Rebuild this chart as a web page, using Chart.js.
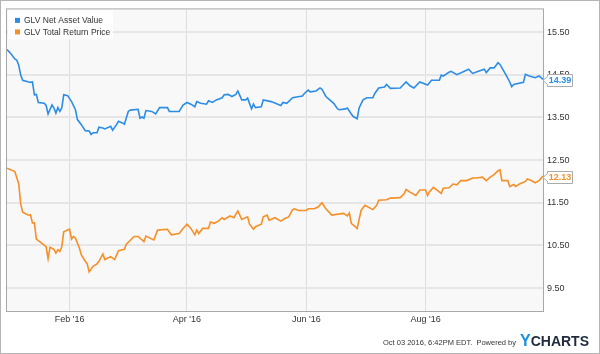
<!DOCTYPE html>
<html>
<head>
<meta charset="utf-8">
<script src="https://cdn.jsdelivr.net/npm/chart.js@4.4.0/dist/chart.umd.min.js"></script>
<style>
  html, body { margin: 0; padding: 0; background: #fff; }
  #wrap { width: 600px; height: 354px; }
</style>
</head>
<body>
<div id="wrap"><canvas id="myChart" width="600" height="354"></canvas></div>
<script>
// x values are days counted from Jan 1 2016 (Jan 1 = 0)
var navDays = [-1,1,3,4,5,6,7,11,12,13,14,15,18,19,20,22,23,24,25,26,27,28,30,32,34,35,37,39,41,42,43,45,46,48,49,52,53,55,56,58,59,61,62,66,67,68,69,70,73,75,77,81,82,87,89,91,93,95,96,98,101,102,104,106,109,110,112,114,116,117,119,121,122,124,125,126,129,130,134,139,140,142,145,147,150,151,153,154,157,159,160,162,164,166,168,169,172,173,175,176,178,179,181,183,186,187,189,192,193,195,200,203,205,207,210,214,216,220,221,222,225,226,229,235,237,240,243,244,246,248,250,251,254,256,257,258,263,264,266,269,271,273];
var navValues = [15.09,14.99,14.87,14.84,14.72,14.49,14.37,14.32,14.33,14.03,14.04,13.85,13.83,13.78,13.58,13.79,13.72,13.60,13.73,13.64,13.72,14.03,14.01,13.87,13.68,13.45,13.33,13.19,13.18,13.10,13.14,13.14,13.27,13.25,13.23,13.29,13.20,13.33,13.41,13.37,13.34,13.64,13.67,13.69,13.48,13.51,13.48,13.66,13.64,13.58,13.73,13.73,13.64,13.64,13.79,13.85,13.81,13.75,13.87,13.83,13.81,13.89,13.85,13.91,13.96,14.03,14.04,13.99,14.04,14.12,13.91,13.91,13.95,13.70,13.81,13.73,13.75,13.91,13.87,13.78,13.85,13.83,13.96,13.98,14.00,14.06,14.14,14.10,14.12,14.19,14.16,13.99,13.91,13.83,13.70,13.68,13.70,13.72,13.58,13.52,13.47,13.72,13.91,13.96,13.96,14.06,14.19,14.21,14.27,14.18,14.19,14.33,14.24,14.19,14.33,14.26,14.37,14.37,14.49,14.47,14.56,14.58,14.50,14.63,14.53,14.58,14.63,14.55,14.66,14.66,14.78,14.74,14.50,14.33,14.22,14.27,14.32,14.51,14.47,14.43,14.47,14.39];

var priceDays = [-1,3,5,6,7,10,11,12,13,14,18,19,20,21,23,24,25,26,27,28,30,31,32,33,34,36,37,39,40,41,43,45,46,48,49,52,54,56,59,60,64,66,69,70,74,76,81,83,87,89,91,93,95,96,97,99,102,103,105,107,109,110,113,115,117,119,122,123,125,126,129,130,132,133,136,139,141,143,145,146,148,152,153,156,158,160,162,165,171,173,174,175,178,180,182,186,188,189,193,195,200,202,203,205,208,210,213,214,215,217,221,222,225,227,229,231,234,237,239,242,244,246,248,250,251,252,255,256,258,259,261,264,265,267,269,271,273];
var priceValues = [12.31,12.23,11.94,11.48,11.28,11.21,11.22,11.03,11.03,10.65,10.51,10.47,10.19,10.46,10.41,10.32,10.40,10.36,10.47,10.82,10.86,10.88,10.65,10.71,10.67,10.44,10.28,10.13,10.07,9.88,10.01,10.07,10.13,10.30,10.17,10.24,10.17,10.38,10.41,10.53,10.71,10.71,10.59,10.72,10.63,10.86,10.88,10.75,10.78,10.90,11.00,10.90,10.75,10.86,10.78,10.90,10.90,11.05,11.02,11.07,11.15,11.11,11.19,11.15,11.31,11.11,11.17,11.00,10.88,10.94,11.00,11.17,11.21,11.09,11.15,11.07,11.13,11.17,11.34,11.36,11.32,11.32,11.36,11.36,11.40,11.50,11.36,11.21,11.25,11.19,11.26,11.02,10.90,11.32,11.44,11.34,11.44,11.56,11.57,11.61,11.62,11.71,11.81,11.75,11.67,11.80,11.80,11.67,11.76,11.86,11.72,11.84,11.85,11.94,11.92,12.02,12.02,12.08,12.08,12.10,12.02,12.10,12.16,12.25,12.27,12.02,12.02,11.88,11.93,11.88,11.94,12.00,12.06,12.02,11.97,12.02,12.13];

var xTickDays = [31, 91, 152, 213];
var xTickLabels = ["Feb '16", "Apr '16", "Jun '16", "Aug '16"];
var yTickValues = [9.5, 10.5, 11.5, 12.5, 13.5, 14.5, 15.5];

var seriesNames = ['GLV Net Asset Value', 'GLV Total Return Price'];
var seriesColors = ['#2b8de6', '#f78f27'];
var footerText = 'Oct 03 2016, 6:42PM EDT.  Powered by';

var FONT = "'Liberation Sans', Arial, sans-serif";

function toPoints(days, vals) {
  return days.map(function (d, i) { return { x: d, y: vals[i] }; });
}

// background, frame, legend, last value tags, footer
var ychartsDecor = {
  id: 'ychartsDecor',
  beforeDraw: function (chart) {
    var c = chart.ctx, a = chart.chartArea;
    c.save();
    c.fillStyle = '#fff';
    c.fillRect(0, 0, chart.width, chart.height);
    c.fillStyle = '#f8f8f8';
    c.fillRect(a.left, a.top, a.right - a.left, a.bottom - a.top);
    c.restore();
  },
  afterDraw: function (chart) {
    var c = chart.ctx, a = chart.chartArea;
    c.save();
    // outer frame
    c.strokeStyle = '#b5b5b5';
    c.lineWidth = 1;
    c.strokeRect(0.5, 0.5, chart.width - 1, chart.height - 1);
    // plot border
    c.strokeStyle = '#a8a8a8';
    c.strokeRect(a.left - 0.5, a.top - 0.5, a.right - a.left + 1, a.bottom - a.top + 1);

    // legend
    c.fillStyle = 'rgba(255,255,255,0.85)';
    c.fillRect(a.left + 1, a.top + 1, 105, 29);
    c.font = '8.5px ' + FONT;
    c.textBaseline = 'middle';
    chart.data.datasets.forEach(function (ds, i) {
      var y = a.top + 11 + i * 11.5;
      c.fillStyle = ds.borderColor;
      c.fillRect(a.left + 8, y - 2.5, 5, 5);
      c.fillStyle = '#333';
      c.fillText(ds.label, a.left + 17, y + 0.5);
    });

    // last value tags on the right axis
    var ys = chart.scales.y;
    chart.data.datasets.forEach(function (ds) {
      var last = ds.data[ds.data.length - 1].y;
      var py = Math.round(ys.getPixelForValue(last)) + 1;
      var x0 = a.right + 4, w = 25, h = 12;
      c.beginPath();
      c.moveTo(a.right, py + 0.5);
      c.lineTo(x0 + 0.5, py - 3.5);
      c.lineTo(x0 + 0.5, py - h / 2 + 0.5);
      c.lineTo(x0 + w + 0.5, py - h / 2 + 0.5);
      c.lineTo(x0 + w + 0.5, py + h / 2 + 0.5);
      c.lineTo(x0 + 0.5, py + h / 2 + 0.5);
      c.lineTo(x0 + 0.5, py + 4.5);
      c.closePath();
      c.fillStyle = '#fff';
      c.fill();
      c.strokeStyle = '#aaa';
      c.stroke();
      c.fillStyle = ds.borderColor;
      c.font = 'bold 9px ' + FONT;
      c.textAlign = 'center';
      c.textBaseline = 'middle';
      c.fillText(last.toFixed(2), x0 + w / 2 + 0.5, py + 1);
    });

    // footer
    c.textAlign = 'right';
    c.textBaseline = 'alphabetic';
    c.font = '7.5px ' + FONT;
    c.fillStyle = '#333';
    c.fillText(footerText, 516, 345);
    c.textAlign = 'left';
    c.font = 'bold 16px ' + FONT;
    c.fillStyle = '#1a8fe3';
    c.fillText('Y', 520, 346);
    var yw = c.measureText('Y').width;
    c.font = 'bold 14px ' + FONT;
    c.fillStyle = '#1d2b3c';
    c.fillText('CHARTS', 520 + yw, 346);
    c.restore();
  }
};

var ctx = document.getElementById('myChart').getContext('2d');

var data = {
  datasets: [
    {
      label: seriesNames[0],
      data: toPoints(navDays, navValues),
      borderColor: seriesColors[0],
      borderWidth: 1.6,
      pointRadius: 0,
      tension: 0,
      fill: false
    },
    {
      label: seriesNames[1],
      data: toPoints(priceDays, priceValues),
      borderColor: seriesColors[1],
      borderWidth: 1.6,
      pointRadius: 0,
      tension: 0,
      fill: false
    }
  ]
};

var options = {
  responsive: false,
  animation: false,
  layout: { padding: { left: 7, top: 7, right: 0, bottom: 0 } },
  plugins: {
    legend: { display: false },
    tooltip: { enabled: false }
  },
  scales: {
    x: {
      type: 'linear',
      min: -1,
      max: 273,
      afterBuildTicks: function (scale) {
        scale.ticks = xTickDays.map(function (d) { return { value: d }; });
      },
      afterFit: function (scale) { scale.height = 43; },
      ticks: {
        autoSkip: false,
        maxRotation: 0,
        padding: 3,
        color: '#333',
        font: { family: FONT, size: 9 },
        callback: function (v) {
          var i = xTickDays.indexOf(v);
          return i >= 0 ? xTickLabels[i] : '';
        }
      },
      grid: { color: '#dedede', lineWidth: 1, drawTicks: false },
      border: { display: false }
    },
    y: {
      position: 'right',
      min: 8.965,
      max: 16.03,
      afterBuildTicks: function (scale) {
        scale.ticks = yTickValues.map(function (v) { return { value: v }; });
      },
      afterFit: function (scale) { scale.width = 57; },
      ticks: {
        padding: 4,
        color: '#333',
        font: { family: FONT, size: 9 },
        callback: function (v) { return v.toFixed(2); }
      },
      grid: { color: '#e6e6e6', lineWidth: 2, drawTicks: false },
      border: { display: false }
    }
  }
};

var lineChart = new Chart(ctx, {
  type: 'line',
  data: data,
  options: options,
  plugins: [ychartsDecor]
});
</script>
</body>
</html>
